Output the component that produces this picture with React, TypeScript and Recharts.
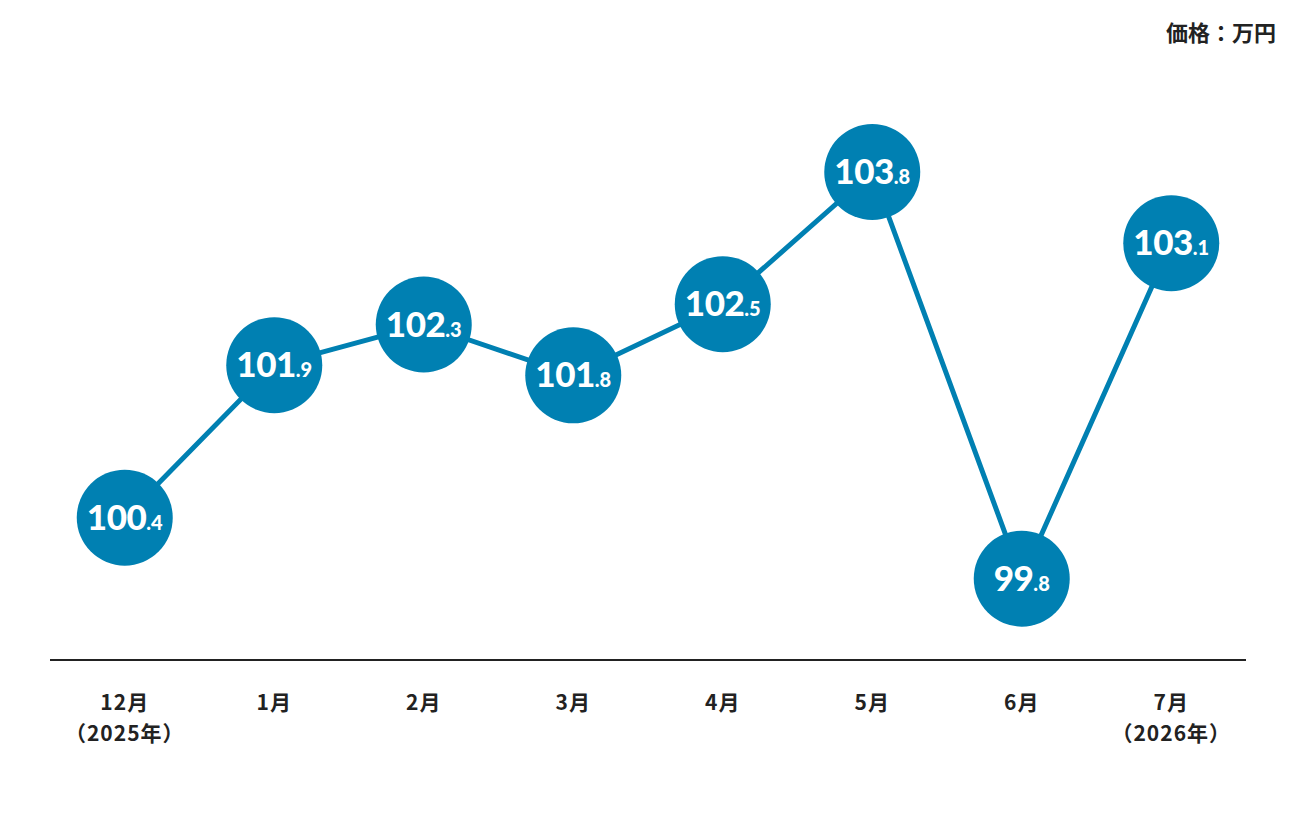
import React from "react";
import { LineChart, Line, XAxis, YAxis } from "recharts";

const months = ["12月", "1月", "2月", "3月", "4月", "5月", "6月", "7月"];
const yearNotes = ["（2025年）", "", "", "", "", "", "", "（2026年）"];
const prices = [100.4, 101.9, 102.3, 101.8, 102.5, 103.8, 99.8, 103.1];

const data = months.map((m, i) => ({ month: m, note: yearNotes[i], price: prices[i] }));

const BLUE = "#0080b2";
const DARK = "#222222";
const JP = "'Noto Sans CJK JP', 'Noto Sans', sans-serif";
const NUM = "Lato, 'Noto Sans', sans-serif";

const Dot = (props: any) => {
  const { cx, cy, payload } = props;
  if (cx == null || cy == null) return null;
  const s = payload.price.toFixed(1);
  const [intPart, decPart] = s.split(".");
  return (
    <g>
      <circle cx={cx} cy={cy} r={48} fill={BLUE} />
      <text
        x={cx}
        y={cy + 12}
        textAnchor="middle"
        fill="#ffffff"
        fontFamily={NUM}
        fontWeight={900}
      >
        <tspan fontSize={35} letterSpacing={-0.5}>{intPart}</tspan>
        <tspan fontSize={20}>.{decPart}</tspan>
      </text>
    </g>
  );
};

const Tick = (props: any) => {
  const { x, y, payload, index } = props;
  const note = yearNotes[index] ?? "";
  return (
    <g>
      <text x={x} y={y + 42} textAnchor="middle" fill={DARK} fontFamily={JP} fontWeight={700} fontSize={21} letterSpacing={1}>
        {payload.value}
      </text>
      {note ? (
        <text x={x} y={y + 73} textAnchor="middle" fill={DARK} fontFamily={JP} fontWeight={700} fontSize={21} letterSpacing={1}>
          {note}
        </text>
      ) : null}
    </g>
  );
};

export default function App() {
  return (
    <div style={{ position: "absolute", left: 0, top: 0, width: 1296, height: 816, background: "#ffffff" }}>
      <div
        style={{
          position: "absolute",
          right: 20,
          top: 16,
          fontFamily: JP,
          fontWeight: 700,
          fontSize: 22,
          lineHeight: "30px",
          color: DARK,
        }}
      >
        価格：万円
      </div>
      <LineChart width={1296} height={816} data={data} margin={{ top: 50, right: 50, bottom: 0, left: 50 }}>
        <XAxis
          dataKey="month"
          axisLine={{ stroke: DARK, strokeWidth: 2 }}
          tickLine={false}
          tick={<Tick />}
          padding={{ left: 74.75, right: 74.75 }}
          interval={0}
          height={156}
        />
        <YAxis hide domain={[99, 105]} />
        <Line
          type="linear"
          dataKey="price"
          stroke={BLUE}
          strokeWidth={5}
          dot={<Dot />}
          activeDot={false}
          isAnimationActive={false}
        />
      </LineChart>
    </div>
  );
}
